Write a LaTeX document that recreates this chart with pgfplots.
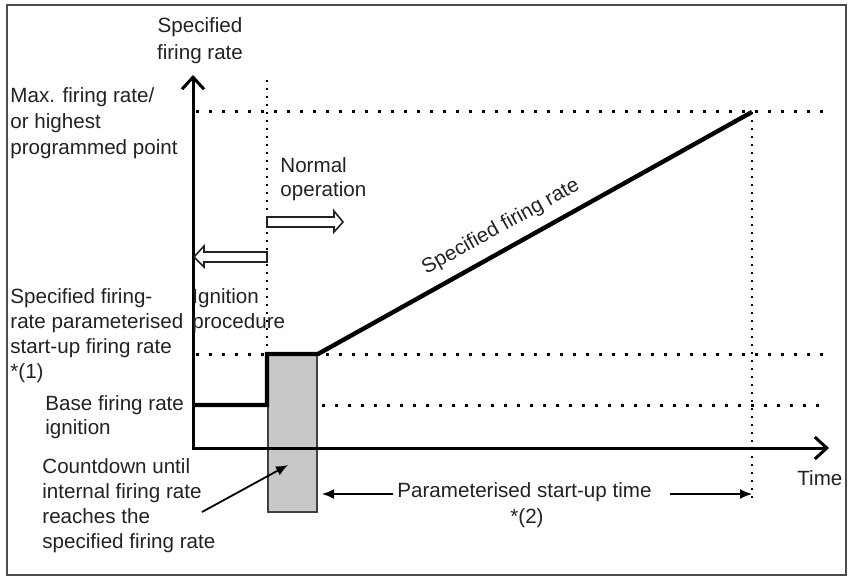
\documentclass[border=0pt]{standalone}
\usepackage{pgfplots}
\pgfplotsset{compat=1.18}
\usepackage{fontspec}
\setmainfont{Liberation Sans}
\usetikzlibrary{arrows.meta}
\definecolor{txt}{HTML}{222222}
\definecolor{boxgray}{HTML}{C8C8C8}
\begin{document}
\begin{tikzpicture}[font=\fontsize{10.3}{13}\selectfont, every node/.style={text=txt, inner sep=0pt}]
\begin{axis}[
  scale only axis, width=424.5pt, height=288.5pt,
  xmin=0, xmax=849, ymin=0, ymax=577, y dir=reverse,
  hide axis, clip=false]
\coordinate (BL) at (0,577);
\coordinate (TR) at (849,0);
% frame
\draw[line width=1pt, gray!60!black] (7,5) rectangle (846,575);
% dotted reference lines
\addplot[no marks, line width=1.5pt, dash pattern=on 1.5pt off 5pt] coordinates {(196,112) (828,112)};
\addplot[no marks, line width=1.5pt, dash pattern=on 1.5pt off 5pt] coordinates {(196,354) (828,354)};
\addplot[no marks, line width=1.5pt, dash pattern=on 1.5pt off 5pt] coordinates {(322,405) (828,405)};
\addplot[no marks, line width=1.1pt, dash pattern=on 1pt off 3pt] coordinates {(267,80) (267,354)};
\addplot[no marks, line width=1.1pt, dash pattern=on 1pt off 3pt] coordinates {(752,112) (752,498)};
% grey countdown box
\addplot[no marks, fill=boxgray, draw=gray!50!black, line width=0.7pt] coordinates {(268,354) (317,354) (317,512) (268,512)} -- cycle;
% axes
\draw[line width=1.5pt, -{Straight Barb[length=6pt,width=11pt,line width=1.5pt]}] (193,449) -- (193,75);
\draw[line width=1.5pt, -{Straight Barb[length=6pt,width=11pt,line width=1.5pt]}] (192,448) -- (829,448);
% specified firing rate curve
\addplot[no marks, line width=2.2pt, line join=miter] coordinates {(193,405) (267,405) (267,354) (318,354) (752,112)};
% hollow arrows
\draw[line width=0.8pt, draw=txt, fill=white] (267,217) -- (334,217) -- (334,211) -- (343,222) -- (334,232) -- (334,227) -- (267,227) -- cycle;
\draw[line width=0.8pt, draw=txt, fill=white] (267,252) -- (204,252) -- (204,246) -- (194,257) -- (204,267) -- (204,262) -- (267,262) -- cycle;
% dimension arrows
\draw[line width=0.8pt, -{Latex[length=6pt,width=5pt]}] (393,494) -- (322,494);
\draw[line width=0.8pt, -{Latex[length=6pt,width=5pt]}] (670,494) -- (752,494);
\draw[line width=0.9pt, -{Latex[length=6pt,width=5pt]}] (202,512) -- (288,465);
% texts
\node[anchor=base] at (200,33) {Specified};
\node[anchor=base] at (200,60) {firing rate};
\node[anchor=base west] at (10,103) {Max. firing rate/};
\node[anchor=base west] at (10,129) {or highest};
\node[anchor=base west] at (10,155) {programmed point};
\node[anchor=base west] at (280,173) {Normal};
\node[anchor=base west] at (280,197) {operation};
\node[anchor=base west] at (10,303) {Specified firing-};
\node[anchor=base west] at (10,328) {rate parameterised};
\node[anchor=base west] at (10,353) {start-up firing rate};
\node[anchor=base west] at (10,378) {*(1)};
\node[anchor=base west] at (192,303) {Ignition};
\node[anchor=base west] at (192,328) {procedure};
\node[anchor=base west] at (45,410) {Base firing rate};
\node[anchor=base west] at (45,434) {ignition};
\node[anchor=base west] at (42,473) {Countdown until};
\node[anchor=base west] at (42,498) {internal firing rate};
\node[anchor=base west] at (42,523) {reaches the};
\node[anchor=base west] at (42,548) {specified firing rate};
\node[anchor=base west] at (397,497) {Parameterised start-up time};
\node[anchor=base] at (527,523) {*(2)};
\node[anchor=base west] at (797,485) {Time};
\node[rotate=29] at (501,227) {Specified firing rate};
\end{axis}
\pgfresetboundingbox
\path[use as bounding box] (BL) rectangle (TR);
\end{tikzpicture}
\end{document}
